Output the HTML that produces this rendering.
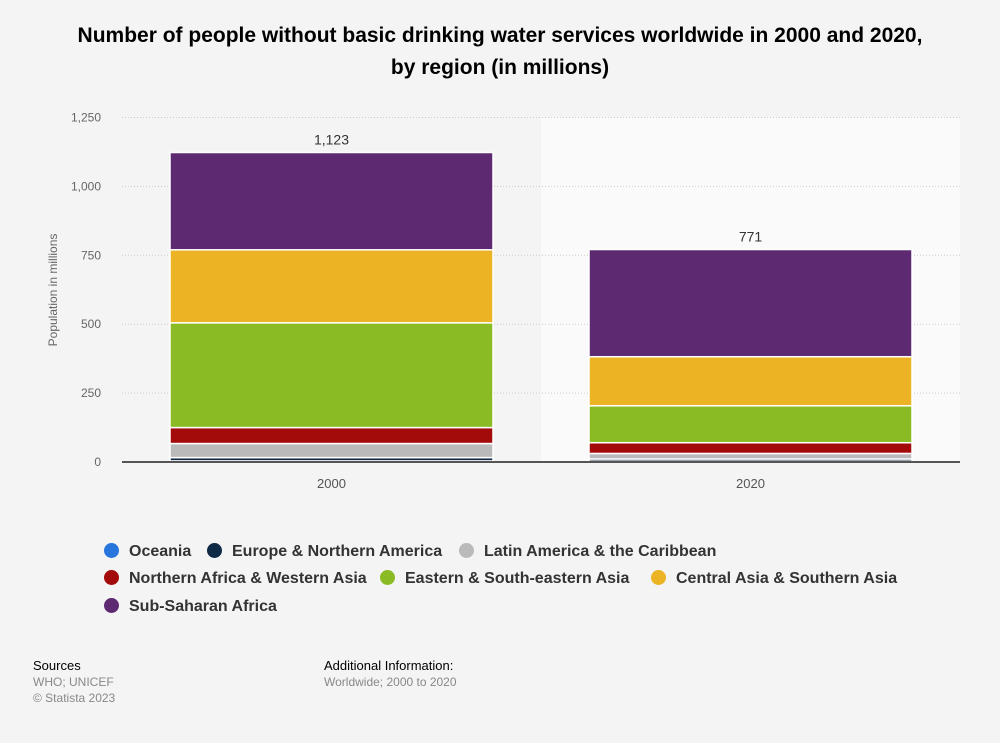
<!DOCTYPE html>
<html><head><meta charset="utf-8"><style>
body{margin:0;background:#f4f4f4;font-family:"Liberation Sans",sans-serif;}
#wrap{position:relative;width:1000px;height:743px;overflow:hidden;}
.title{position:absolute;left:0;width:1000px;top:20px;text-align:center;font-weight:bold;font-size:21px;line-height:32px;color:#000;}
.leg{position:absolute;font-size:16px;font-weight:bold;color:#333;white-space:nowrap;}
.leg span.dot{display:inline-block;width:15px;height:15px;border-radius:50%;vertical-align:-2px;margin-right:10px;}
.foot{position:absolute;font-size:12px;color:#888;line-height:16px;}
.foot b{font-weight:normal;color:#000;}
</style></head><body>
<div id="wrap">
<div class="title">Number of people without basic drinking water services worldwide in 2000 and 2020,<br>by region (in millions)</div>
<svg id="chart" width="1000" height="743" style="position:absolute;left:0;top:0"></svg>
<div id="legend"></div>
<div class="foot" style="left:33px;top:658px"><b style="font-size:13px">Sources</b><br>WHO; UNICEF<br>© Statista 2023</div>
<div class="foot" style="left:324px;top:658px"><b style="font-size:13px">Additional Information:</b><br>Worldwide; 2000 to 2020</div>
</div>
<script>
const categories=["2000","2020"];
const seriesNames=["Oceania","Europe & Northern America","Latin America & the Caribbean","Northern Africa & Western Asia","Eastern & South-eastern Asia","Central Asia & Southern Asia","Sub-Saharan Africa"];
const seriesColors=["#2876dd","#0f2a47","#bababa","#a30a0a","#8abb24","#ecb425","#5d2a72"];
const oceania=[4,3];
const europe=[12,8];
const latin=[51,20];
const nawa=[58,39];
const esea=[380,134];
const casa=[265,178];
const ssa=[353,389];
const totals=[1123,771];
const yTicks=[0,250,500,750,1000,1250];
const yTickLabels=["0","250","500","750","1,000","1,250"];

const series=[oceania,europe,latin,nawa,esea,casa,ssa];
const svg=document.getElementById('chart');
const NS="http://www.w3.org/2000/svg";
const x0=122,x1=960,yBase=462,yTop=117.5,yMax=1250;
const y=v=>yBase-(v/yMax)*(yBase-yTop);
const band=(x1-x0)/categories.length;
const xc=i=>x0+band*(i+0.5);
const barW=323;
function mk(t,a){const e=document.createElementNS(NS,t);for(const k in a)e.setAttribute(k,a[k]);svg.appendChild(e);return e;}
const bg=mk('rect',{x:x0+band,y:yTop,width:band,height:yBase-yTop,fill:'#fafafa'});


yTicks.forEach((t,i)=>{
 if(t>0){const g=mk('line',{x1:x0,x2:x1,y1:y(t),y2:y(t),stroke:'#ccc','stroke-dasharray':'1,2'});
 
 }
 const tx=mk('text',{x:101,y:y(t)+4,'text-anchor':'end','font-size':12,fill:'#666'});
 tx.textContent=yTickLabels[i];
 
 
});
const yt=mk('text',{x:0,y:0,transform:'translate(57,290) rotate(-90)','text-anchor':'middle','font-size':12,fill:'#666'});
yt.textContent='Population in millions';


categories.forEach((c,i)=>{
 let acc=0;
 series.forEach((s,j)=>{
  const v=s[i];
  const r=mk('rect',{x:xc(i)-barW/2,y:y(acc+v),width:barW,height:Math.max(0,y(acc)-y(acc+v)),fill:seriesColors[j],stroke:'#fff','stroke-width':1.5});
  
  
  acc+=v;
 });
 const lb=mk('text',{x:xc(i),y:y(totals[i])-8,'text-anchor':'middle','font-size':14,fill:'#333'});
 lb.textContent=totals[i].toLocaleString('en-US');
 
 
 const xl=mk('text',{x:xc(i),y:488,'text-anchor':'middle','font-size':13,fill:'#555'});
 xl.textContent=c;
 
 
});
const ax=mk('line',{x1:x0,x2:x1,y1:yBase,y2:yBase,stroke:'#555','stroke-width':2});


const pos=[[104,553],[207,553],[459,553],[104,580],[380,580],[651,580],[104,608]];
const lg=document.getElementById('legend');
seriesNames.forEach((n,j)=>{
 const d=document.createElement('div');
 d.className='leg';
 d.style.left=pos[j][0]+'px';d.style.top=(pos[j][1]-10)+'px';
 d.innerHTML='<span class="dot" style="background:'+seriesColors[j]+'"></span>'+n.replace('&','&amp;');
 
 
 lg.appendChild(d);
});
</script>
</body></html>
